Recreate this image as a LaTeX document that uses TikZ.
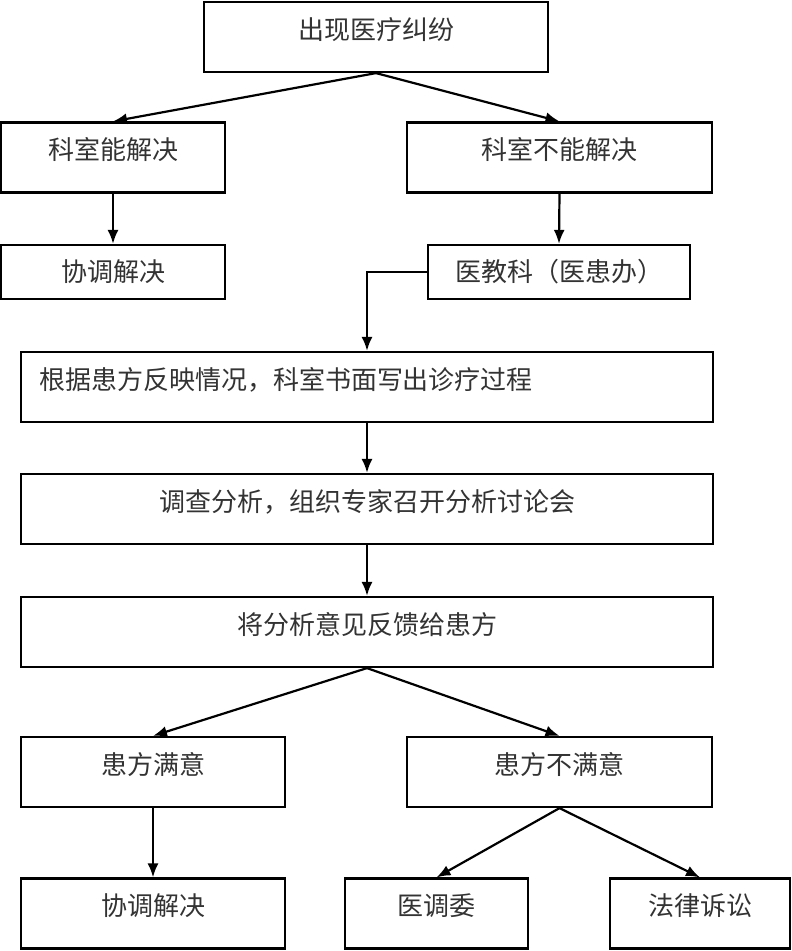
\documentclass[tikz,border=0pt]{standalone}
\usepackage{fontspec}
\usepackage{xcolor}
\usetikzlibrary{positioning, arrows.meta}
\newfontfamily\cjk{Noto Sans CJK SC}
\definecolor{ink}{HTML}{333333}

\begin{document}
\begin{tikzpicture}[
    x=1pt, y=-1pt,
    every node/.style={font=\cjk\fontsize{26}{30}\selectfont, text=ink},
    box/.style={rectangle, draw=black, line width=2.2pt, inner sep=0pt,
                minimum height=70pt, text height=18pt, text depth=14pt},
    lowbox/.style={rectangle, draw=black, line width=2.2pt, inner sep=0pt,
                   minimum height=54pt},
    arr/.style={-{Latex[length=14pt, width=11pt]}, line width=2.2pt},
  ]
  \useasboundingbox (0,0) rectangle (792,951);

  \node[box, minimum width=344pt] (start)  at (376,37)    {出现医疗纠纷};
  \node[box, minimum width=224pt] (able)   at (113,157.5) {科室能解决};
  \node[box, minimum width=305pt] (unable) at (559.5,157.5) {科室不能解决};
  \node[lowbox, minimum width=224pt] (coord)  at (113,272)  {协调解决};
  \node[lowbox, minimum width=262pt] (office) at (559,272)  {医教科（医患办）};

  \node[box, text width=656pt, inner xsep=18pt, align=left] (report) at (367,387)
       {根据患方反映情况，科室书面写出诊疗过程};
  \node[box, minimum width=692pt] (inquiry)  at (367,509) {调查分析，组织专家召开分析讨论会};
  \node[box, minimum width=692pt] (feedback) at (367,632) {将分析意见反馈给患方};

  \node[box, minimum width=264pt] (pleased)    at (153,772)   {患方满意};
  \node[box, minimum width=305pt] (displeased) at (559.5,772) {患方不满意};
  \node[box, minimum width=264pt] (settle)  at (153,913.5) {协调解决};
  \node[box, minimum width=183pt] (mediate) at (436.5,913.5) {医调委};
  \node[box, minimum width=180pt] (lawsuit) at (700,913.5) {法律诉讼};

  \draw[arr] (start.south)  -- (able.north);
  \draw[arr] (start.south)  -- (unable.north);
  \draw[arr] (able.south)   -- (coord.north);
  \draw[arr] (unable.south) -- (office.north);
  \draw[arr] (office.west)  -| (report.north);
  \draw[arr] (report)   -- (inquiry);
  \draw[arr] (inquiry)  -- (feedback);
  \draw[arr] (feedback.south) -- (pleased.north);
  \draw[arr] (feedback.south) -- (displeased.north);
  \draw[arr] (pleased)  -- (settle);
  \draw[arr] (displeased.south) -- (mediate.north);
  \draw[arr] (displeased.south) -- (lawsuit.north);
\end{tikzpicture}
\end{document}
